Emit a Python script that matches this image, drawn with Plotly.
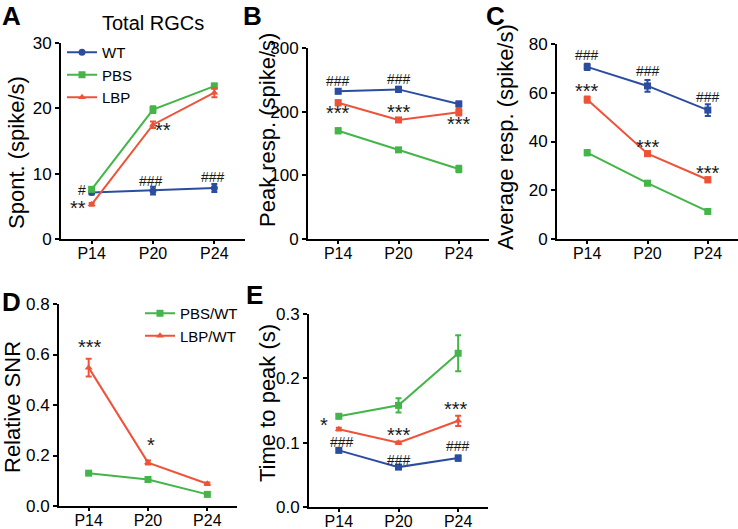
import plotly.graph_objects as go

W, H = 738, 529
categories = ["P14", "P20", "P24"]
xs = [0, 1, 2]

# Panel A: Spont. (spike/s)
A_wt = [7.1, 7.4, 7.8]
A_wt_err = [0.3, 0.6, 0.6]
A_pbs = [7.6, 19.8, 23.4]
A_pbs_err = [0.3, 0.5, 0.4]
A_lbp = [5.3, 17.5, 22.4]
A_lbp_err = [0.2, 0.5, 0.7]
# Panel B: Peak resp.
B_wt = [232, 235, 212]
B_wt_err = [3, 4, 4]
B_pbs = [170, 140, 110]
B_pbs_err = [4, 3, 5]
B_lbp = [214, 187, 199]
B_lbp_err = [4, 3, 5]
# Panel C: Average resp.
C_wt = [70.6, 62.8, 52.9]
C_wt_err = [1.3, 2.4, 2.4]
C_pbs = [35.4, 22.9, 11.3]
C_pbs_err = [1.0, 0.8, 0.7]
C_lbp = [57.2, 35.0, 24.3]
C_lbp_err = [1.3, 1.0, 1.0]
# Panel D: Relative SNR
D_pbs = [0.130, 0.105, 0.046]
D_pbs_err = [0.003, 0.003, 0.003]
D_lbp = [0.548, 0.172, 0.088]
D_lbp_err = [0.035, 0.008, 0.005]
# Panel E: Time to peak
E_wt = [0.088, 0.062, 0.076]
E_wt_err = [0.002, 0.001, 0.004]
E_pbs = [0.141, 0.158, 0.239]
E_pbs_err = [0.003, 0.011, 0.028]
E_lbp = [0.121, 0.100, 0.134]
E_lbp_err = [0.002, 0.002, 0.008]

# significance marks: (text, x, y)
A_marks = [("#", -0.15, 7.5), ("**", -0.23, 5.1), ("**", 1.16, 17.0), ("###", 0.97, 8.9), ("###", 1.98, 9.5)]
B_marks = [("###", 0.0, 248), ("###", 1.0, 251), ("***", 0.0, 201), ("***", 1.0, 203), ("***", 2.0, 183)]
C_marks = [("###", 0.0, 75.5), ("###", 1.0, 69), ("###", 2.0, 58.4), ("***", 0.0, 61.4), ("***", 1.0, 38.6), ("***", 2.0, 28)]
D_marks = [("***", 0.03, 0.638), ("*", 1.05, 0.251)]
E_marks = [("*", -0.25, 0.131), ("###", 0.05, 0.101), ("***", 1.0, 0.115), ("###", 1.0, 0.073), ("***", 1.97, 0.155), ("###", 2.0, 0.095)]

BLUE = "#2B4DA0"
GREEN = "#44B549"
RED = "#EE5339"
FONT = "Arial, Liberation Sans, sans-serif"

fig = go.Figure()

def px_x(p):
    return p / W

def px_y(p):
    return 1 - p / H

def add_series(ax, name, y, err, color, symbol, showlegend=False, legend="legend"):
    fig.add_trace(go.Scatter(
        x=xs, y=y, name=name, mode="lines+markers",
        line=dict(color=color, width=2),
        marker=dict(color=color, symbol=symbol, size=7),
        error_y=dict(type="data", array=err, color=color, thickness=2, width=3),
        xaxis="x" + ("" if ax == 1 else str(ax)),
        yaxis="y" + ("" if ax == 1 else str(ax)),
        showlegend=showlegend, legend=legend, cliponaxis=False,
    ))

add_series(1, "WT", A_wt, A_wt_err, BLUE, "circle", True)
add_series(1, "PBS", A_pbs, A_pbs_err, GREEN, "square", True)
add_series(1, "LBP", A_lbp, A_lbp_err, RED, "triangle-up", True)
add_series(2, "WT", B_wt, B_wt_err, BLUE, "square")
add_series(2, "PBS", B_pbs, B_pbs_err, GREEN, "square")
add_series(2, "LBP", B_lbp, B_lbp_err, RED, "square")
add_series(3, "WT", C_wt, C_wt_err, BLUE, "square")
add_series(3, "PBS", C_pbs, C_pbs_err, GREEN, "square")
add_series(3, "LBP", C_lbp, C_lbp_err, RED, "square")
add_series(4, "PBS/WT", D_pbs, D_pbs_err, GREEN, "square", True, "legend2")
add_series(4, "LBP/WT", D_lbp, D_lbp_err, RED, "triangle-up", True, "legend2")
add_series(5, "WT", E_wt, E_wt_err, BLUE, "square")
add_series(5, "PBS", E_pbs, E_pbs_err, GREEN, "square")
add_series(5, "LBP", E_lbp, E_lbp_err, RED, "triangle-up")

# axis geometry in pixels: (x0, x1, ytop, ybottom)
geo = {
    1: (61, 245, 43, 239),
    2: (308, 489, 48, 239),
    3: (557, 738, 44, 239),
    4: (59, 237, 304, 506),
    5: (309, 488, 314, 507),
}
yranges = {1: [0, 30], 2: [0, 300], 3: [0, 80], 4: [0, 0.8], 5: [0, 0.3]}
yticks = {1: [0, 10, 20, 30], 2: [0, 100, 200, 300], 3: [0, 20, 40, 60, 80],
          4: [0, 0.2, 0.4, 0.6, 0.8], 5: [0, 0.1, 0.2, 0.3]}
yfmt = {1: "", 2: "", 3: "", 4: ".1f", 5: ".1f"}

layout = {}
for i, (x0, x1, yt, yb) in geo.items():
    sfx = "" if i == 1 else str(i)
    layout["xaxis" + sfx] = dict(
        domain=[px_x(x0), min(px_x(x1), 1)], range=[-0.5, 2.5],
        anchor="y" + sfx, tickvals=xs, ticktext=categories, automargin=False,
        showline=True, linecolor="black", linewidth=2, ticks="outside",
        ticklen=3, tickwidth=1.5, tickcolor="black", showgrid=False, zeroline=False,
        ticklabelstandoff=-4,
        tickfont=dict(family=FONT, size=16, color="black"),
    )
    layout["yaxis" + sfx] = dict(
        domain=[px_y(yb), px_y(yt)], range=yranges[i], anchor="x" + sfx,
        tickvals=yticks[i], tickformat=yfmt[i], automargin=False,
        showline=True, linecolor="black", linewidth=2, ticks="outside",
        ticklen=4, tickwidth=1.5, tickcolor="black", showgrid=False, zeroline=False,
        tickfont=dict(family=FONT, size=17, color="black"),
    )

annotations = []

def paper_text(text, x, y, size, bold=False, angle=0):
    annotations.append(dict(
        text=("<b>%s</b>" % text) if bold else text, x=px_x(x), y=px_y(y),
        xref="paper", yref="paper", showarrow=False, textangle=angle,
        xanchor="center", yanchor="middle",
        font=dict(family=FONT, size=size, color="black"),
    ))

for letter, (x, y) in {"A": (11, 16), "B": (252, 16), "C": (495, 16), "D": (11, 302), "E": (254, 295)}.items():
    paper_text(letter, x, y, 26, bold=True)
paper_text("Total RGCs", 153, 23, 20)
paper_text("Spont. (spike/s)", 16, 153, 22, angle=-90)
paper_text("Peak resp. (spike/s)", 267, 130, 22, angle=-90)
paper_text("Average resp. (spike/s)", 505, 137, 22, angle=-90)
paper_text("Relative SNR", 12, 407, 22, angle=-90)
paper_text("Time to peak (s)", 267, 403, 22, angle=-90)

for ax, marks in [(1, A_marks), (2, B_marks), (3, C_marks), (4, D_marks), (5, E_marks)]:
    sfx = "" if ax == 1 else str(ax)
    for text, x, y in marks:
        star = "*" in text
        annotations.append(dict(
            text=text, x=x, y=y, xref="x" + sfx, yref="y" + sfx, showarrow=False,
            xanchor="center", yanchor="middle", yshift=-2 if star else 0,
            font=dict(family=FONT, size=20 if star else 14, color="#1a1a1a"),
        ))

fig.update_layout(
    template="none",
    width=W, height=H, margin=dict(l=0, r=0, t=0, b=0, autoexpand=False),
    paper_bgcolor="white", plot_bgcolor="white",
    font=dict(family=FONT, color="black"),
    annotations=annotations,
    legend=dict(x=px_x(62), y=px_y(36), xanchor="left", yanchor="top",
                bgcolor="rgba(0,0,0,0)", font=dict(family=FONT, size=15, color="black"),
                itemwidth=30, tracegroupgap=0),
    legend2=dict(x=px_x(140), y=px_y(297), xanchor="left", yanchor="top",
                 bgcolor="rgba(0,0,0,0)", font=dict(family=FONT, size=15, color="black"),
                 itemwidth=30, tracegroupgap=0),
    **layout,
)

fig.write_html("out.html", config={"displayModeBar": False},
               post_script="document.body.style.margin='0px';")
